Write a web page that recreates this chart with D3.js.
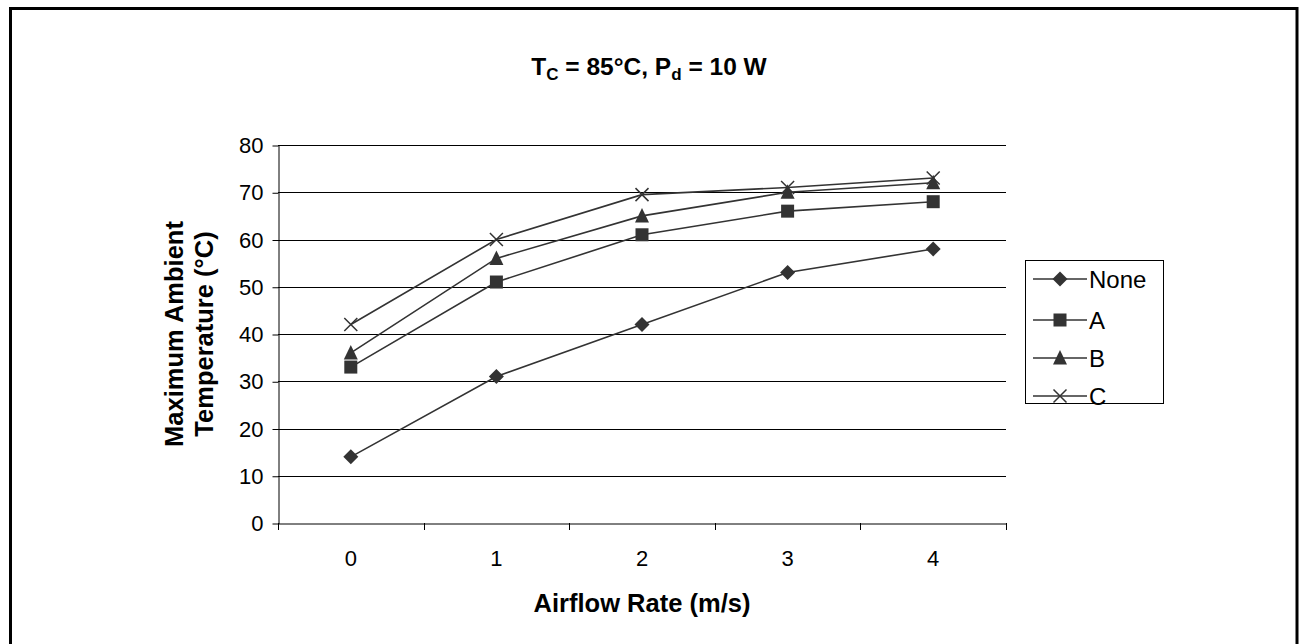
<!DOCTYPE html>
<html><head><meta charset="utf-8">
<script src="https://cdn.jsdelivr.net/npm/d3@7/dist/d3.min.js"></script>
<style>body{margin:0;background:#fff}svg{display:block}text{font-family:"Liberation Sans",Arial,sans-serif}</style>
</head><body><svg id="c" width="1299" height="644"></svg>
<script>
const categories = ["0","1","2","3","4"];
const seriesNames = ["None","A","B","C"];
const noneVals = [14,31,42,53,58];
const aVals = [33,51,61,66,68];
const bVals = [36,56,65,70,72];
const cVals = [42,60,69.5,71,73];
const yTicks = [0,10,20,30,40,50,60,70,80];
const markers = ["diamond","square","triangle","cross"];

const series = [noneVals,aVals,bVals,cVals].map((v,i)=>({name:seriesNames[i],values:v,marker:markers[i]}));
const svg = d3.select("#c");
const col = "#333";
svg.append("rect").attr("x",10.5).attr("y",8.5).attr("width",1286.5).attr("height",660)
  .attr("fill","none").attr("stroke","#000").attr("stroke-width",3);

const L=278,R=1006,T=145,B=523;
const x = d3.scaleBand().domain(categories).range([L,R]).padding(0);
const y = d3.scaleLinear().domain([0,80]).range([B,T]);

// gridlines
svg.append("g").selectAll("line").data(yTicks.filter(d=>d>0)).join("line")
  .attr("x1",L).attr("x2",R).attr("y1",d=>Math.round(y(d))+0.5).attr("y2",d=>Math.round(y(d))+0.5)
  .attr("stroke","#000").attr("stroke-width",1);

// y axis
const ya = svg.append("g").attr("transform",`translate(${L+0.5},0.5)`)
  .call(d3.axisLeft(y).tickValues(yTicks).tickSize(6).tickSizeOuter(0).tickPadding(9));
ya.selectAll("path,line").attr("stroke","#000");
ya.selectAll("text").attr("font-size",22).attr("fill","#000").style("font-family","Liberation Sans, Arial");

// x axis
const xa = svg.append("g").attr("transform",`translate(0,${B+0.5})`)
  .call(d3.axisBottom(x).tickSize(0).tickPadding(27));
xa.select("path").attr("stroke","#000");
xa.selectAll("text").attr("font-size",22).attr("fill","#000").style("font-family","Liberation Sans, Arial");
const bounds = categories.map(c=>x(c)).concat([x(categories[categories.length-1])+x.bandwidth()]);
svg.append("g").selectAll("line").data(bounds).join("line")
  .attr("x1",d=>Math.round(d)+0.5).attr("x2",d=>Math.round(d)+0.5).attr("y1",B).attr("y2",B+7)
  .attr("stroke","#000");

// lines
const cx = c=>x(c)+x.bandwidth()/2;
const line = d3.line().x((d,i)=>cx(categories[i])).y(d=>y(d));
svg.append("g").selectAll("path").data(series).join("path")
  .attr("d",s=>line(s.values)).attr("fill","none").attr("stroke",col).attr("stroke-width",1.6);

function drawMarker(g,type,px,py){
  const s=7.5;
  if(type==="diamond") g.append("path").attr("d",`M${px},${py-s}L${px+s},${py}L${px},${py+s}L${px-s},${py}Z`).attr("fill",col);
  else if(type==="square") g.append("rect").attr("x",px-6.5).attr("y",py-6.5).attr("width",13).attr("height",13).attr("fill",col);
  else if(type==="triangle") g.append("path").attr("d",`M${px},${py-8}L${px+7},${py+6.5}L${px-7},${py+6.5}Z`).attr("fill",col);
  else g.append("path").attr("d",`M${px-6.5},${py-6.5}L${px+6.5},${py+6.5}M${px+6.5},${py-6.5}L${px-6.5},${py+6.5}`).attr("stroke",col).attr("stroke-width",1.5);
}
const mg = svg.append("g");
series.forEach(s=>s.values.forEach((v,i)=>drawMarker(mg,s.marker,cx(categories[i]),y(v))));

// title
const t = svg.append("text").attr("x",649).attr("y",75).attr("text-anchor","middle")
  .attr("font-size",24.5).attr("font-weight","bold").attr("fill","#000");
t.append("tspan").text("T");
t.append("tspan").attr("font-size",17).attr("dy",5).text("C");
t.append("tspan").attr("dy",-5).text(" = 85°C, P");
t.append("tspan").attr("font-size",17).attr("dy",5).text("d");
t.append("tspan").attr("dy",-5).text(" = 10 W");

// axis titles
svg.append("text").attr("x",(L+R)/2).attr("y",612).attr("text-anchor","middle")
  .attr("font-size",25.5).attr("font-weight","bold").text("Airflow Rate (m/s)");
const yl = svg.append("text").attr("transform",`translate(0,${(T+B)/2}) rotate(-90)`)
  .attr("text-anchor","middle").attr("font-size",25.5).attr("font-weight","bold");
yl.append("tspan").attr("x",0).attr("y",183).text("Maximum Ambient");
yl.append("tspan").attr("x",0).attr("y",213).text("Temperature (°C)");

// legend
const lg = svg.append("g");
lg.append("rect").attr("x",1025.5).attr("y",260.5).attr("width",138).attr("height",143)
  .attr("fill","#fff").attr("stroke","#000").attr("stroke-width",1);
const ly = [279,320,358,396];
series.forEach((s,i)=>{
  lg.append("line").attr("x1",1033).attr("x2",1087).attr("y1",ly[i]).attr("y2",ly[i]).attr("stroke",col).attr("stroke-width",1.6);
  drawMarker(lg,s.marker,1060,ly[i]);
  lg.append("text").attr("x",1089).attr("y",ly[i]).attr("dy","0.36em").attr("font-size",24).text(s.name);
});
</script></body></html>
